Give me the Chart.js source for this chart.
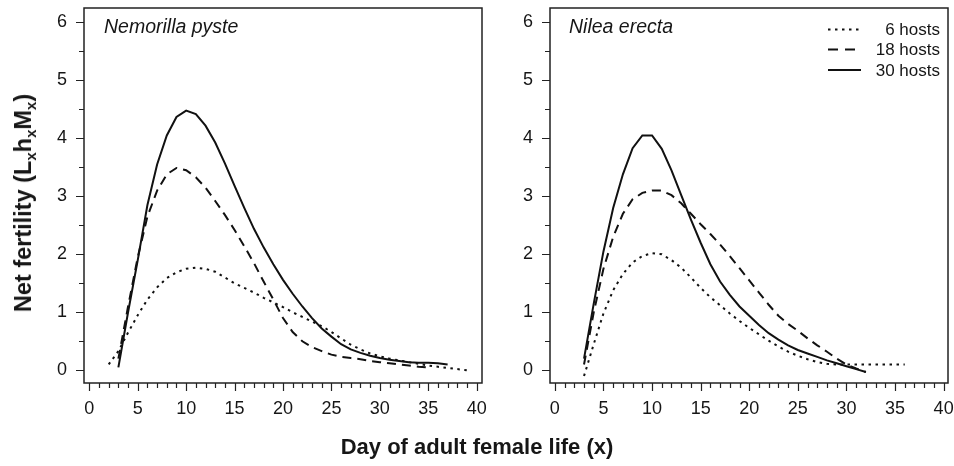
<!DOCTYPE html>
<html>
<head>
<meta charset="utf-8">
<script src="https://cdn.jsdelivr.net/npm/chart.js@4.4.1/dist/chart.umd.min.js"></script>
<style>
html,body{margin:0;padding:0;background:#fff;}
body{width:954px;height:466px;position:relative;overflow:hidden;font-family:"Liberation Sans",Arial,Helvetica,sans-serif;color:#161616;}
canvas{position:absolute;top:0;}
#c1{left:0;}
#c2{left:490px;}
.species{position:absolute;font-style:italic;font-size:19.5px;line-height:19px;top:17px;white-space:nowrap;}
#ytitle{position:absolute;left:23px;top:203px;transform:translate(-50%,-50%) rotate(-90deg);font-weight:bold;font-size:23.5px;line-height:24px;white-space:nowrap;}
#ytitle sub{font-size:15px;vertical-align:-5px;line-height:0;}
#xtitle{position:absolute;left:0;width:954px;top:435px;text-align:center;font-weight:bold;font-size:22px;line-height:24px;white-space:nowrap;}
#legtext{position:absolute;right:14px;top:20px;text-align:right;font-size:17px;line-height:20.3px;white-space:nowrap;}
#legsvg{position:absolute;left:826px;top:0;}
</style>
</head>
<body>
<canvas id="c1" width="490" height="466"></canvas>
<canvas id="c2" width="464" height="466"></canvas>
<div class="species" style="left:104px">Nemorilla pyste</div>
<div class="species" style="left:569px">Nilea erecta</div>
<div id="ytitle">Net fertility (L<sub>x</sub>h<sub>x</sub>M<sub>x</sub>)</div>
<div id="xtitle">Day of adult female life (x)</div>
<svg id="legsvg" width="40" height="80">
  <line x1="2" y1="29.5" x2="35" y2="29.5" stroke="#111" stroke-width="2" stroke-dasharray="2.5 4.5"/>
  <line x1="2" y1="49.5" x2="35" y2="49.5" stroke="#111" stroke-width="2" stroke-dasharray="10 7"/>
  <line x1="2" y1="70" x2="35" y2="70" stroke="#111" stroke-width="2"/>
</svg>
<div id="legtext">6 hosts<br>18 hosts<br>30 hosts</div>
<script>
// ---- data: Nemorilla pyste ----
const nemDays6  = [2,3,4,5,6,7,8,9,10,11,12,13,14,15,16,17,18,19,20,21,22,23,24,25,26,27,28,29,30,31,32,33,34,35,36,37,38,39];
const nemHosts6 = [0.10,0.33,0.65,0.95,1.22,1.43,1.59,1.69,1.75,1.77,1.75,1.70,1.60,1.50,1.42,1.34,1.25,1.17,1.09,1.00,0.92,0.84,0.76,0.66,0.55,0.44,0.36,0.29,0.24,0.20,0.17,0.14,0.11,0.08,0.06,0.04,0.02,0.00];
const nemDays18  = [3,4,5,6,7,8,9,10,11,12,13,14,15,16,17,18,19,20,21,22,23,24,25,26,27,28,29,30,31,32,33,34,35];
const nemHosts18 = [0.20,1.10,1.95,2.65,3.10,3.38,3.49,3.45,3.33,3.15,2.92,2.68,2.42,2.14,1.85,1.53,1.22,0.90,0.66,0.50,0.40,0.33,0.27,0.23,0.21,0.19,0.16,0.14,0.12,0.10,0.08,0.06,0.05];
const nemDays30  = [3,4,5,6,7,8,9,10,11,12,13,14,15,16,17,18,19,20,21,22,23,24,25,26,27,28,29,30,31,32,33,34,35,36,37];
const nemHosts30 = [0.05,1.00,1.90,2.85,3.55,4.05,4.37,4.48,4.42,4.22,3.93,3.57,3.18,2.80,2.44,2.12,1.83,1.56,1.32,1.10,0.90,0.72,0.58,0.45,0.36,0.30,0.25,0.21,0.18,0.16,0.14,0.13,0.13,0.12,0.10];
// ---- data: Nilea erecta ----
const nilDays6  = [3,4,5,6,7,8,9,10,11,12,13,14,15,16,17,18,19,20,21,22,23,24,25,26,27,28,29,30,31,32,33,34,35,36];
const nilHosts6 = [-0.10,0.45,0.98,1.38,1.66,1.86,1.97,2.02,2.00,1.90,1.77,1.60,1.42,1.26,1.12,0.98,0.85,0.73,0.62,0.51,0.41,0.32,0.25,0.19,0.14,0.11,0.10,0.10,0.10,0.10,0.10,0.10,0.10,0.10];
const nilDays18  = [3,4,5,6,7,8,9,10,11,12,13,14,15,16,17,18,19,20,21,22,23,24,25,26,27,28,29,30,31,32];
const nilHosts18 = [0.10,1.00,1.75,2.30,2.70,2.95,3.06,3.10,3.10,3.02,2.88,2.70,2.52,2.35,2.17,1.97,1.76,1.55,1.34,1.13,0.94,0.80,0.68,0.55,0.43,0.32,0.20,0.10,0.03,-0.03];
const nilDays30  = [3,4,5,6,7,8,9,10,11,12,13,14,15,16,17,18,19,20,21,22,23,24,25,26,27,28,29,30,31,32];
const nilHosts30 = [0.20,1.15,2.05,2.80,3.38,3.83,4.05,4.05,3.82,3.45,3.02,2.60,2.20,1.83,1.53,1.30,1.10,0.94,0.78,0.64,0.53,0.43,0.35,0.29,0.23,0.17,0.12,0.07,0.02,-0.03];
// ---- series labels / tick labels ----
const seriesLabels = ['6 hosts','18 hosts','30 hosts'];
const xTickLabels = [0,5,10,15,20,25,30,35,40];
const yTickLabels = [0,1,2,3,4,5,6];

const FONT = '"Liberation Sans", Arial, Helvetica, sans-serif';
const INK = '#111';
const dashes = [[2.5,4.5],[9,6],[]];

const frameTicks = {
  id:'frameTicks',
  afterDraw(chart){
    const {ctx, chartArea:a, scales:{x,y}} = chart;
    ctx.save();
    ctx.strokeStyle = '#222';
    ctx.lineWidth = 1.5;
    ctx.setLineDash([]);
    ctx.strokeRect(a.left, a.top, a.right-a.left, a.bottom-a.top);
    ctx.lineWidth = 1.2;
    ctx.beginPath();
    x.ticks.forEach(t=>{
      if (!Number.isInteger(t.value)) return;
      const px = Math.round(x.getPixelForValue(t.value))+0.5;
      const len = xTickLabels.includes(t.value) ? 8 : 5;
      ctx.moveTo(px, a.bottom); ctx.lineTo(px, a.bottom+len);
    });
    y.ticks.forEach(t=>{
      if (!Number.isInteger(t.value*2)) return;
      const py = Math.round(y.getPixelForValue(t.value))+0.5;
      const len = yTickLabels.includes(t.value) ? 8 : 5;
      ctx.moveTo(a.left-len, py); ctx.lineTo(a.left, py);
    });
    ctx.stroke();
    ctx.restore();
  }
};

function zeroPad(s){ s.paddingTop = 0; s.paddingBottom = 0; s.paddingLeft = 0; s.paddingRight = 0; }

function makeChart(id, days, vals, yWidth, padRight, xmin, xmax){
  return new Chart(document.getElementById(id), {
    type:'line',
    data:{
      datasets: vals.map((v,k)=>({
        label: seriesLabels[k],
        data: days[k].map((d,i)=>({x:d, y:v[i]})),
        borderColor: INK,
        borderWidth: 2,
        borderDash: dashes[k],
        borderCapStyle: 'butt',
        pointRadius: 0,
        tension: 0,
        fill: false
      }))
    },
    options:{
      responsive:false, animation:false,
      layout:{padding:{top:8, right:padRight, left:0, bottom:0}},
      plugins:{legend:{display:false}, tooltip:{enabled:false}},
      scales:{
        x:{
          type:'linear', min:xmin, max:xmax,
          afterFit(s){ s.height = 83; zeroPad(s); },
          grid:{display:false, drawTicks:false}, border:{display:false},
          ticks:{stepSize:1, maxTicksLimit:200, includeBounds:false, autoSkip:false, maxRotation:0, padding:15,
                 color:'#161616', font:{family:FONT, size:18},
                 callback:v=> xTickLabels.includes(v) ? String(v) : ''}
        },
        y:{
          type:'linear', min:-0.22, max:6.25,
          afterFit(s){ s.width = yWidth; zeroPad(s); },
          grid:{display:false, drawTicks:false}, border:{display:false},
          ticks:{stepSize:0.5, maxTicksLimit:200, includeBounds:false, padding:17,
                 color:'#161616', font:{family:FONT, size:18},
                 callback:v=> yTickLabels.includes(v) ? String(v) : ''}
        }
      }
    },
    plugins:[frameTicks]
  });
}

makeChart('c1', [nemDays6, nemDays18, nemDays30], [nemHosts6, nemHosts18, nemHosts30], 84, 8, -0.55, 40.55);
makeChart('c2', [nilDays6, nilDays18, nilDays30], [nilHosts6, nilHosts18, nilHosts30], 60, 6, -0.5, 40.45);
</script>
</body>
</html>
